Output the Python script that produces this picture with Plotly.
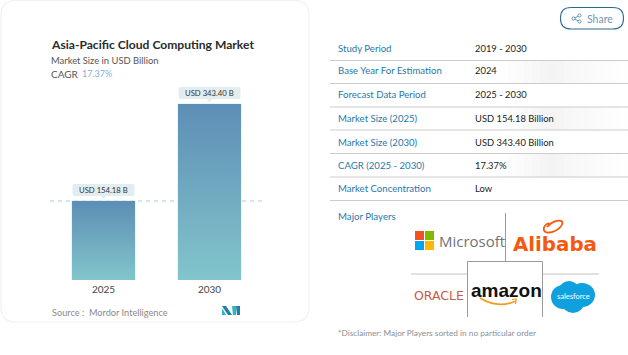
import plotly.graph_objects as go

W, H = 628, 355
FONT = "Lato"
years = ["2025", "2030"]
market_size = [154.18, 343.40]
bar_labels = ["USD 154.18 B", "USD 343.40 B"]
row_labels = ["Study Period", "Base Year For Estimation", "Forecast Data Period", "Market Size (2025)",
              "Market Size (2030)", "CAGR (2025 - 2030)", "Market Concentration"]
row_values = ["2019 - 2030", "2024", "2025 - 2030", "USD 154.18 Billion", "USD 343.40 Billion", "17.37%", "Low"]
row_centers = [48, 71, 95, 118, 142, 165, 188]
row_rules = [60.5, 83.5, 107, 130, 153.5, 177, 200.5]

def X(p): return p / W
def Y(p): return 1 - p / H

shapes, ann = [], []

def text(x, y, s, size=11, color="#333", anchor="left", family=FONT, **kw):
    ann.append(dict(xref="paper", yref="paper", x=X(x), y=Y(y), text=s, showarrow=False, xanchor=anchor,
                    yanchor="middle", align=anchor,
                    font=dict(family=family, size=size, color=color), borderpad=0, **kw))

def line(x0, y0, x1, y1, color="#c9c9c9", width=1, dash=None, layer="above"):
    shapes.append(dict(type="line", xref="paper", yref="paper", x0=X(x0), y0=Y(y0), x1=X(x1), y1=Y(y1), layer=layer,
                       line=dict(color=color, width=width, dash=dash)))

def rect(x0, y0, x1, y1, fill, layer="above"):
    shapes.append(dict(type="rect", xref="paper", yref="paper", x0=X(x0), y0=Y(y0), x1=X(x1), y1=Y(y1),
                       fillcolor=fill, line_width=0, layer=layer))

def circle(x0, y0, x1, y1, fill, outline=None, lw=0):
    shapes.append(dict(type="circle", xref="paper", yref="paper", x0=X(x0), y0=Y(y0), x1=X(x1), y1=Y(y1),
                       fillcolor=fill, line=dict(color=outline or fill, width=lw), layer="above"))

def path(points, fill=None, color=None, width=1, layer="above"):
    d = ""
    for cmd, *nums in points:
        d += cmd
        d += " ".join(f"{X(nums[i]):.5f},{Y(nums[i + 1]):.5f}" for i in range(0, len(nums), 2)) + " "
    shapes.append(dict(type="path", xref="paper", yref="paper", path=d + ("Z" if fill else ""),
                       fillcolor=fill or "rgba(0,0,0,0)", line=dict(color=color or "rgba(0,0,0,0)", width=width), layer=layer))

def round_rect(x0, y0, x1, y1, r, fill, outline, width=1, layer="below"):
    path([("M", x0 + r, y0), ("L", x1 - r, y0), ("Q", x1, y0, x1, y0 + r), ("L", x1, y1 - r), ("Q", x1, y1, x1 - r, y1),
          ("L", x0 + r, y1), ("Q", x0, y1, x0, y1 - r), ("L", x0, y0 + r), ("Q", x0, y0, x0 + r, y0)],
         fill=fill, color=outline, width=width, layer=layer)

# card
round_rect(1, 0.5, 309, 322, 15, "#ffffff", "#f0f1f1", 1.2)

# header texts
text(50, 44, "<b>Asia-Pacific Cloud Computing Market</b>", 12.1, "#2b2b2b")
text(50, 60, "Market Size in USD Billion", 9.4, "#555")
text(50, 74, "CAGR", 10, "#555")
text(81, 74, "17.37%", 9, "#7fb2d8")

# bars: solid base plus gradient overlay computed from the same values
half = 0.297
fig = go.Figure()
fig.add_trace(go.Bar(x=[0, 1], y=market_size, width=2 * half, marker=dict(color="#70a8bf", line=dict(color="#d5eaf0", width=1)),
                     showlegend=False, hoverinfo="skip"))
for i, v in enumerate(market_size):
    fig.add_trace(go.Scatter(x=[i - half, i + half, i + half, i - half, i - half], y=[0, 0, v, v, 0], mode="lines",
                             line=dict(width=0), fill="toself", showlegend=False, hoverinfo="skip",
                             fillgradient=dict(type="vertical", start=0, stop=v,
                                               colorscale=[[0, "#82c5cb"], [1, "#5d8eb5"]])))

# average line
ref_y = market_size[0]
shapes.append(dict(type="line", xref="paper", yref="y", x0=X(50), x1=X(264), y0=ref_y, y1=ref_y, layer="below",
                   line=dict(color="#a9cee4", width=1, dash="4px,4px")))

# value tags: pixel-sized callouts anchored on each bar's value
TAG = ("M-29,5 L-3,5 L0,2 L3,5 L29,5 Q31,5 31,7 L31,15 Q31,17 29,17 L-29,17 Q-31,17 -31,15 L-31,7 Q-31,5 -29,5 Z")
for i, (v, s) in enumerate(zip(market_size, bar_labels)):
    shapes.append(dict(type="path", xref="x", yref="y", xsizemode="pixel", ysizemode="pixel", xanchor=i, yanchor=v,
                       path=TAG, fillcolor="#e2edf0", line_width=0, layer="above"))
    ann.append(dict(xref="x", yref="y", x=i, y=v, yshift=11, text=s, showarrow=False, xanchor="center", yanchor="middle",
                    font=dict(family=FONT, size=7.7, color="#333")))

# source and mini logo
text(51, 312, "Source :  Mordor Intelligence", 9.2, "#8a8a8a")
path([("M", 222, 306), ("L", 226, 306), ("L", 232, 315), ("L", 228, 315)], fill="#1e7fa8")
path([("M", 222, 315), ("L", 222, 308), ("L", 226, 315)], fill="#2bb6c6")
path([("M", 232, 306), ("L", 236, 306), ("L", 236, 315), ("L", 233, 315)], fill="#2bb6c6")
path([("M", 236, 306), ("L", 240, 306), ("L", 240, 315), ("L", 237, 315)], fill="#1e7fa8")

# share button
round_rect(560.5, 7.5, 623.5, 29, 10.5, "#ffffff", "#2d6b8c", 1.1, layer="above")
text(586, 19, "Share", 10.5, "#6f97ae")
line(574, 18.5, 579, 15.5, "#4d7f9b", 0.8)
line(574, 18.5, 579, 21.5, "#4d7f9b", 0.8)
for cx, cy in [(573.5, 18.5), (579.5, 15.5), (579.5, 21.5)]:
    circle(cx - 1.6, cy - 1.6, cx + 1.6, cy + 1.6, "#ffffff", "#4d7f9b", 0.8)

# faint shading of alternate rows
for y0, y1 in [(row_rules[0], row_rules[1]), (row_rules[2], row_rules[3]), (row_rules[4], row_rules[5])]:
    for k in range(0, 16):
        xa = 500 + k * 8
        t = 1 - abs(xa + 4 - 550) / 78 if xa + 4 > 550 else (xa + 4 - 500) / 50
        c = int(round(255 - 11 * max(t, 0)))
        rect(xa, y0, xa + 8, y1, f"rgb({c},{c},{c})", layer="below")

# table
for yc, lab, val in zip(row_centers, row_labels, row_values):
    text(337, yc, lab, 9.6, "#1f78ab")
    text(474, yc, val, 9.4, "#222")
for yr in row_rules:
    line(330, yr, 628, yr, "#cccccc", 1)

# major players
text(337, 216, "Major Players", 9.7, "#1f78ab")
line(505.5, 213, 505.5, 261.5, "#9a9a9a", 1)
line(411, 274, 467, 274, "#c4c4c4", 1)
line(543, 274, 599, 274, "#c4c4c4", 1)
path([("M", 467.5, 317), ("L", 467.5, 261.5), ("L", 542.5, 261.5), ("L", 542.5, 317)], color="#9a9a9a", width=1)

# Microsoft
rect(415, 231, 424, 240, "#f25022")
rect(425, 231, 434, 240, "#7fba00")
rect(415, 241, 424, 250, "#00a4ef")
rect(425, 241, 434, 250, "#ffb900")
text(438, 240.5, "Microsoft", 15, "#737373", family="Open Sans")

# Alibaba
text(511.5, 244.5, "<b>Alibaba</b>", 19.8, "#f4590f", family="DejaVu Sans")
path([("M", 549, 223), ("C", 542, 226, 542, 233, 549, 232.5), ("C", 557, 232, 564, 225, 562, 221.5),
      ("C", 559, 219, 551, 222, 547, 227)], color="#f4590f", width=1.8)

# Oracle
text(412.5, 295.5, "ORACLE", 12.5, "#c9584a", family="DejaVu Sans")

# Amazon
text(469.5, 290, "<b>amazon</b>", 19, "#111111", family="Liberation Sans")
path([("M", 480, 298), ("Q", 498, 309, 516, 301)], color="#f49a1a", width=1.6)
path([("M", 512, 299.5), ("L", 516.5, 299), ("L", 515.5, 304)], color="#f49a1a", width=1)

# Salesforce cloud
for x0, y0, x1, y1 in [(551, 285, 575, 309), (559, 281, 579, 299), (569, 283, 595, 307), (562, 293, 584, 313)]:
    circle(x0, y0, x1, y1, "#0ea1dd")
text(573.5, 296, "salesforce", 7.5, "#ffffff", anchor="center")

# disclaimer
text(337, 333, "*Disclaimer: Major Players sorted in no particular order", 8.25, "#8a8f94")

fig.update_layout(
    width=W, height=H, autosize=False, margin=dict(l=0, r=0, t=0, b=0), paper_bgcolor="#ffffff", plot_bgcolor="rgba(0,0,0,0)",
    shapes=shapes, annotations=ann, showlegend=False, barmode="overlay",
    xaxis=dict(domain=[X(50.5), X(262.5)], range=[-0.5, 1.5], tickmode="array", tickvals=[0, 1], ticktext=years, showgrid=False,
               zeroline=False, showline=False, ticks="", ticklabelstandoff=2, tickfont=dict(family=FONT, size=10, color="#444")),
    yaxis=dict(domain=[Y(280), Y(60)], range=[0, 220 / (176 / 343.4)], showgrid=False, zeroline=False, visible=False),
)
fig.write_html("out.html", config=dict(displayModeBar=False), post_script="document.body.style.margin='0';")
